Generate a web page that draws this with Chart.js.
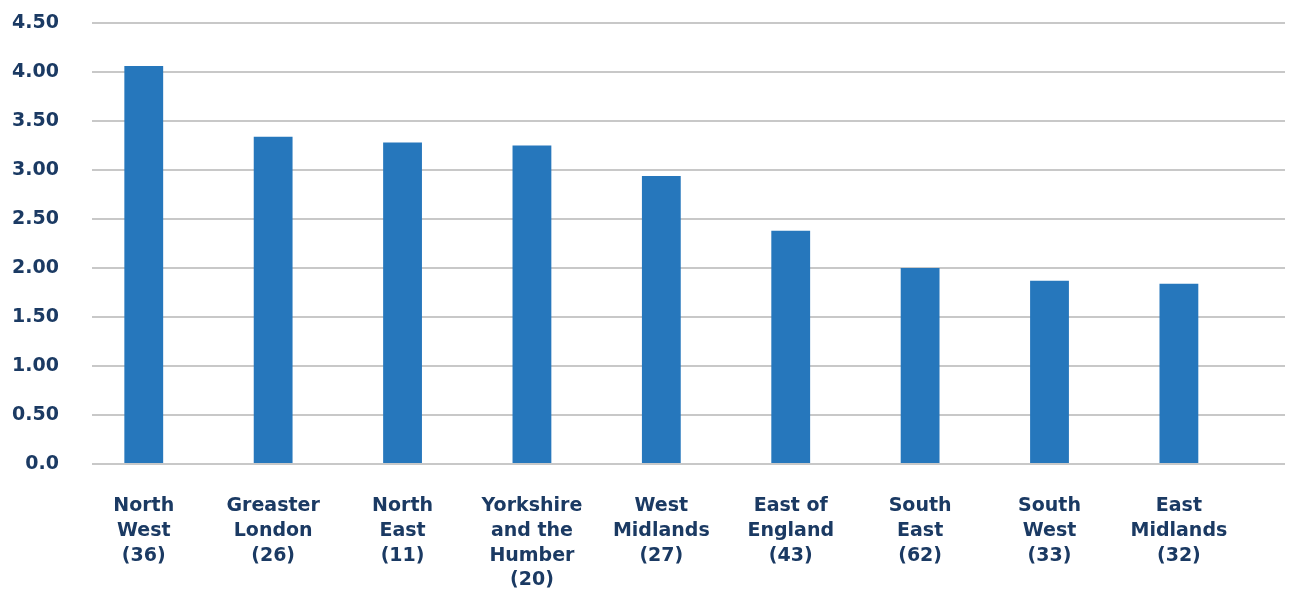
<!DOCTYPE html>
<html>
<head>
<meta charset="utf-8">
<script src="https://cdn.jsdelivr.net/npm/chart.js@4"></script>
<style>
  html, body { margin: 0; padding: 0; background: #fff; }
  #wrap { width: 1304px; height: 590px; }
</style>
</head>
<body>
<div id="wrap"><canvas id="regionChart"></canvas></div>
<script>
// Region names (split over lines) and the number in brackets under each
const regions = [
  ['North', 'West'],
  ['Greaster', 'London'],
  ['North', 'East'],
  ['Yorkshire', 'and the', 'Humber'],
  ['West', 'Midlands'],
  ['East of', 'England'],
  ['South', 'East'],
  ['South', 'West'],
  ['East', 'Midlands']
];
const counts = [36, 26, 11, 20, 27, 43, 62, 33, 32];
const values = [4.06, 3.34, 3.28, 3.25, 2.94, 2.38, 2.00, 1.87, 1.84];
const yTicks = [0, 0.5, 1, 1.5, 2, 2.5, 3, 3.5, 4, 4.5];

const textColor = '#1b3a63';
const barColor = '#2677bc';
const gridColor = '#c8c8c8';
const labelFont = { family: 'DejaVu Sans', size: 19, weight: 'bold', lineHeight: 1.3 };

const labels = regions.map((r, i) => [...r, '(' + counts[i] + ')']);

// linear x so the bars can sit a little left of the gridlines' centre
const points = values.map((v, i) => ({ x: i, y: v }));

new Chart(document.getElementById('regionChart'), {
  type: 'bar',
  data: {
    datasets: [{
      data: points,
      backgroundColor: barColor,
      barPercentage: 0.6,
      categoryPercentage: 0.5
    }]
  },
  options: {
    responsive: true,
    maintainAspectRatio: false,
    animation: false,
    layout: { padding: { top: 23, right: 19, left: 0, bottom: 0 } },
    plugins: {
      legend: { display: false },
      tooltip: { enabled: false }
    },
    scales: {
      x: {
        type: 'linear',
        offset: false,
        min: -0.4,
        max: 8.82,
        afterBuildTicks: scale => {
          scale.ticks = labels.map((_, i) => ({ value: i }));
        },
        grid: { display: false },
        border: { display: false },
        ticks: {
          color: textColor,
          font: labelFont,
          padding: 22,
          maxRotation: 0,
          autoSkip: false,
          callback: v => labels[v]
        },
        afterFit: scale => {
          scale.height = 126;
          scale.paddingLeft = 0;
          scale.paddingRight = 0;
        }
      },
      y: {
        min: 0,
        max: 4.5,
        afterBuildTicks: scale => {
          scale.ticks = yTicks.map(v => ({ value: v }));
        },
        afterFit: scale => {
          scale.width = 92;
          scale.paddingTop = 0;
          scale.paddingBottom = 0;
        },
        grid: {
          color: gridColor,
          lineWidth: 2,
          drawTicks: false
        },
        border: { display: false },
        ticks: {
          color: textColor,
          font: labelFont,
          padding: 33,
          callback: v => v === 0 ? '0.0' : v.toFixed(2)
        }
      }
    }
  }
});
</script>
</body>
</html>
